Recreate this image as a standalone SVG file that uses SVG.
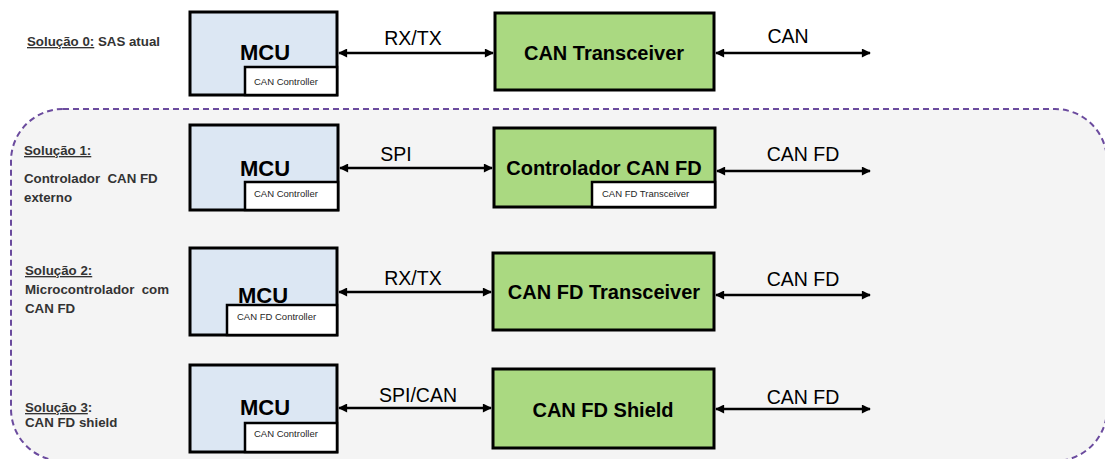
<svg xmlns="http://www.w3.org/2000/svg" width="1105" height="459" viewBox="0 0 1105 459">
  <style>
    .mcu { fill: #dce7f3; stroke: #000; stroke-width: 3; }
    .blk { fill: #aad981; stroke: #000; stroke-width: 3; }
    .sub { fill: #fff; stroke: #000; stroke-width: 2.5; }
    .big { font-family: "Liberation Sans", Arial, sans-serif; font-weight: bold; fill: #000; text-anchor: middle; }
    .mcut { font-size: 22px; }
    .blkt { font-size: 20px; }
    .small { font-family: "Liberation Sans", Arial, sans-serif; font-size: 9.5px; fill: #262626; }
    .lbl { font-family: "Liberation Sans", Arial, sans-serif; font-size: 19.5px; fill: #000; text-anchor: middle; }
    .side { font-family: "Liberation Sans", Arial, sans-serif; font-size: 13.3px; font-weight: bold; fill: #333; white-space: pre; }
    .wire { stroke: #000; stroke-width: 2.5; fill: none; marker-start: url(#head); marker-end: url(#head); }
  </style>
  <defs>
    <marker id="head" viewBox="0 0 10 10" refX="9" refY="5" markerWidth="10" markerHeight="9" markerUnits="userSpaceOnUse" orient="auto-start-reverse">
      <path d="M0,0 L10,5 L0,10 Z" fill="#000"/>
    </marker>
  </defs>

  <rect width="1105" height="459" fill="#fff"/>

  <!-- grouping frame for the proposed solutions -->
  <rect id="frame" x="11" y="109" width="1096" height="352" rx="52" ry="52" fill="#f4f4f4" stroke="#6b4b9e" stroke-width="2" stroke-dasharray="6 4"/>

  <!-- row captions -->
  <g id="caption0">
    <text class="side" x="27" y="46"><tspan text-decoration="underline">Solução 0:</tspan> SAS atual</text>
  </g>
  <g id="caption1">
    <text class="side" x="24" y="155" text-decoration="underline">Solução 1:</text>
    <text class="side" x="24" y="183" xml:space="preserve">Controlador  CAN FD</text>
    <text class="side" x="24" y="202">externo</text>
  </g>
  <g id="caption2">
    <text class="side" x="25" y="275" text-decoration="underline">Solução 2:</text>
    <text class="side" x="25" y="294" xml:space="preserve">Microcontrolador  com</text>
    <text class="side" x="25" y="313">CAN FD</text>
  </g>
  <g id="caption3">
    <text class="side" x="25" y="412"><tspan text-decoration="underline">Solução 3</tspan>:</text>
    <text class="side" x="25" y="427">CAN FD shield</text>
  </g>

  <!-- row 0 -->
  <g id="mcu0">
    <rect class="mcu" x="190" y="12" width="147" height="83"/>
    <text class="big mcut" x="265" y="60">MCU</text>
    <rect class="sub" x="245" y="67" width="92" height="28"/>
    <text class="small" x="254" y="85">CAN Controller</text>
  </g>
  <g id="xcvr0">
    <rect class="blk" x="495" y="13" width="219" height="77"/>
    <text class="big blkt" x="604" y="60">CAN Transceiver</text>
  </g>

  <!-- row 1 -->
  <g id="mcu1">
    <rect class="mcu" x="190" y="125" width="148" height="85"/>
    <text class="big mcut" x="265" y="176">MCU</text>
    <rect class="sub" x="245" y="182" width="93" height="28"/>
    <text class="small" x="254" y="197">CAN Controller</text>
  </g>
  <g id="ctrl1">
    <rect class="blk" x="494" y="128" width="221" height="79"/>
    <text class="big blkt" x="604" y="175">Controlador CAN FD</text>
    <rect class="sub" x="592" y="182" width="123" height="25"/>
    <text class="small" x="602" y="197">CAN FD Transceiver</text>
  </g>

  <!-- row 2 -->
  <g id="mcu2">
    <rect class="mcu" x="190" y="248" width="147" height="87"/>
    <text class="big mcut" x="263" y="303">MCU</text>
    <rect class="sub" x="227" y="305" width="110" height="30"/>
    <text class="small" x="237" y="320">CAN FD Controller</text>
  </g>
  <g id="xcvr2">
    <rect class="blk" x="493" y="253" width="221" height="77"/>
    <text class="big blkt" x="604" y="299">CAN FD Transceiver</text>
  </g>

  <!-- row 3 -->
  <g id="mcu3">
    <rect class="mcu" x="190" y="365" width="147" height="87"/>
    <text class="big mcut" x="265" y="415">MCU</text>
    <rect class="sub" x="245" y="423" width="92" height="29"/>
    <text class="small" x="254" y="437">CAN Controller</text>
  </g>
  <g id="shield3">
    <rect class="blk" x="493" y="369" width="221" height="79"/>
    <text class="big blkt" x="603" y="417">CAN FD Shield</text>
  </g>

  <!-- connectors -->
  <g id="connectors">
    <line class="wire" x1="339" y1="53" x2="493" y2="53"/>
    <line class="wire" x1="716" y1="53" x2="870" y2="53"/>
    <line class="wire" x1="340" y1="168" x2="492" y2="168"/>
    <line class="wire" x1="717" y1="171" x2="870" y2="171"/>
    <line class="wire" x1="339" y1="292" x2="491" y2="292"/>
    <line class="wire" x1="716" y1="295" x2="870" y2="295"/>
    <line class="wire" x1="339" y1="408" x2="491" y2="408"/>
    <line class="wire" x1="716" y1="409" x2="870" y2="409"/>
    <text class="lbl" x="413" y="45">RX/TX</text>
    <text class="lbl" x="788" y="43">CAN</text>
    <text class="lbl" x="396" y="161">SPI</text>
    <text class="lbl" x="803" y="161">CAN FD</text>
    <text class="lbl" x="413" y="285">RX/TX</text>
    <text class="lbl" x="803" y="286">CAN FD</text>
    <text class="lbl" x="418" y="402">SPI/CAN</text>
    <text class="lbl" x="803" y="404">CAN FD</text>
  </g>
</svg>
